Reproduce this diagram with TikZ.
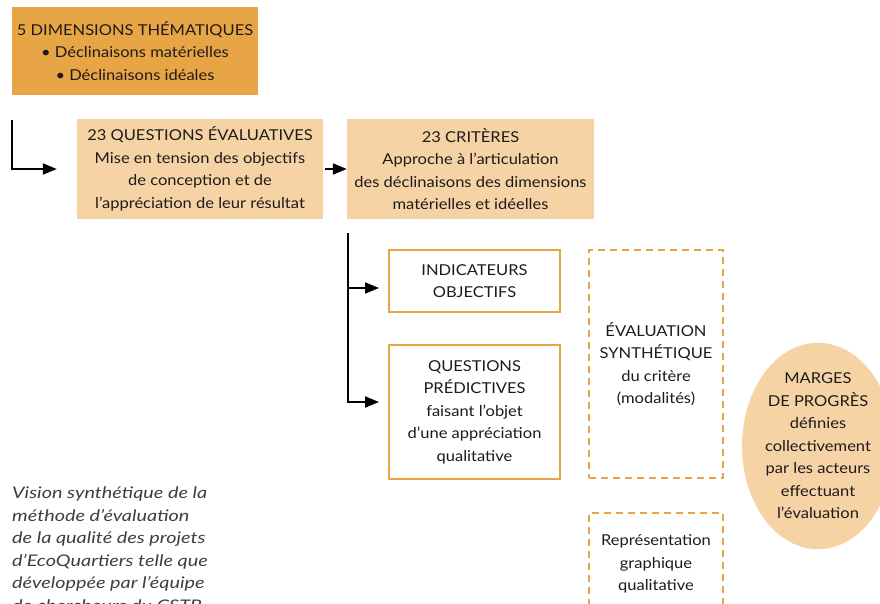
\documentclass[tikz,border=0pt]{standalone}
\usepackage{fontspec}
\setmainfont{Lato}[FakeStretch=1.1]
\newfontfamily\legendfont{Lato}[FakeStretch=1.24]
\usetikzlibrary{arrows.meta, shapes.geometric}
\definecolor{ochre}{HTML}{E8A545}
\definecolor{sand}{HTML}{F6D3A4}
\definecolor{ink}{HTML}{1E1B1C}
\tikzset{
    every node/.style={text=ink, font=\fontsize{15}{22.5}\selectfont,
        align=center, inner sep=0pt},
    darkbox/.style={fill=ochre, minimum width=246pt, minimum height=88pt},
    lightbox/.style={fill=sand, minimum width=246pt, minimum height=100pt},
    framebox/.style={draw=ochre, line width=2pt, fill=white,
        minimum width=171pt},
    dashbox/.style={draw=ochre, line width=2.5pt, dash pattern=on 7pt off 5pt,
        minimum width=134pt},
    flow/.style={line width=2pt, -{Triangle[length=14pt, width=11pt]}},
}

\begin{document}
\begin{tikzpicture}[x=1pt, y=-1pt]
    \clip (0, 0) rectangle (880, 604); % Page = reference frame

    \node[darkbox] (dims) at (135, 51) {5 DIMENSIONS THÉMATIQUES\\
        • Déclinaisons matérielles\\ • Déclinaisons idéales};
    \node[lightbox] (evalq) at (200, 169) {23 QUESTIONS ÉVALUATIVES\\
        Mise en tension des objectifs\\ de conception et de\\
        l’appréciation de leur résultat};
    \node[lightbox, minimum width=247pt] (crit) at (470.5, 169) {23 CRITÈRES\\
        Approche à l’articulation\\ des déclinaisons des dimensions\\
        matérielles et idéelles};

    \node[framebox, minimum height=62pt] (ind) at (474.5, 281)
        {INDICATEURS\\ OBJECTIFS};
    \node[framebox, minimum height=134pt] (pred) at (474.5, 412)
        {QUESTIONS\\ PRÉDICTIVES\\ faisant l’objet\\ d’une appréciation\\
        qualitative};

    \node[dashbox, minimum height=228pt] (synth) at (656, 364)
        {ÉVALUATION\\ SYNTHÉTIQUE\\ du critère\\ (modalités)};
    \node[dashbox, minimum height=102pt] (graph) at (656, 564)
        {Représentation\\ graphique\\ qualitative};

    \node[ellipse, fill=sand, minimum width=152pt, minimum height=180pt]
        (marges) at (818, 446) {MARGES\\ DE PROGRÈS\\ définies\\
        collectivement\\ par les acteurs\\ effectuant\\ l’évaluation};

    \node[anchor=west, align=left, text=ink!85, font=\fontsize{16}{22.5}%
        \selectfont\legendfont\itshape] (legend) at (12, 549)
        {Vision synthétique de la\\ méthode d’évaluation\\
        de la qualité des projets\\ d’EcoQuartiers telle que\\
        développée par l’équipe\\ de chercheurs du CSTB};

    \coordinate (bend) at (12, 120); % Start of the L-shaped arrow
    \coordinate (fork) at (348, 233); % Start of the split arrows

    \draw[flow, shorten >=20pt] (bend) |- (evalq.west);
    \draw[flow, shorten <=2pt] (evalq.east) -- (crit.west);
    \draw[flow, shorten >=9pt] (fork) |- ([yshift=-7pt]ind.west);
    \draw[flow, shorten >=9pt] (fork) |- ([yshift=10pt]pred.west);
\end{tikzpicture}
\end{document}
